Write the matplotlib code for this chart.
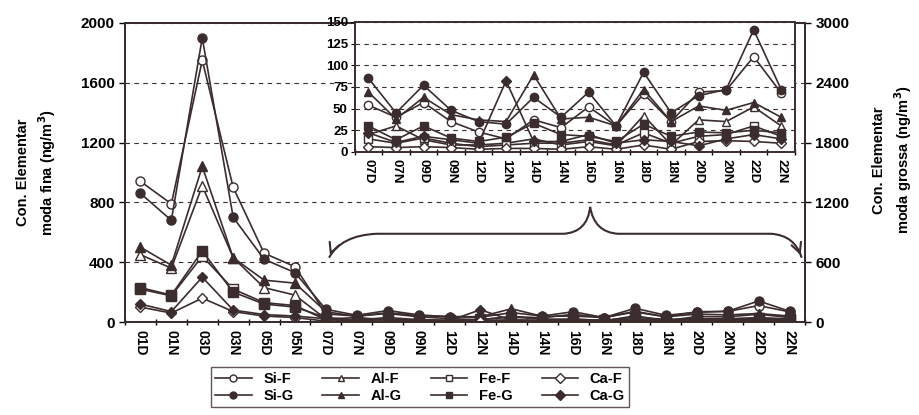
import numpy as np
import matplotlib
matplotlib.use('Agg')
import matplotlib.pyplot as plt
from matplotlib.path import Path
from matplotlib.patches import PathPatch

plt.rcParams['font.family'] = ['Liberation Sans', 'DejaVu Sans']
plt.rcParams['font.weight'] = 'bold'

# categories (sampling day + D/N)
cats = ['01D', '01N', '03D', '03N', '05D', '05N', '07D', '07N', '09D', '09N', '12D',
        '12N', '14D', '14N', '16D', '16N', '18D', '18N', '20D', '20N', '22D', '22N']

# concentrations (ng/m3)
si_f = [940, 790, 1750, 900, 460, 370, 54, 40, 57, 35, 23, 15, 37, 28, 52, 30, 67, 35, 69, 71, 110, 68]
si_g = [860, 680, 1900, 700, 420, 330, 85, 45, 77, 48, 35, 32, 63, 40, 69, 30, 92, 45, 65, 72, 141, 72]
al_f = [450, 360, 910, 430, 230, 180, 20, 30, 14, 8, 8, 10, 15, 8, 12, 7, 42, 8, 37, 35, 52, 30]
al_g = [500, 380, 1040, 430, 280, 260, 69, 38, 63, 43, 37, 35, 89, 38, 40, 30, 72, 35, 53, 48, 57, 40]
fe_f = [220, 175, 440, 220, 130, 110, 15, 10, 16, 10, 6, 8, 10, 10, 14, 8, 22, 10, 18, 20, 30, 18]
fe_g = [230, 180, 475, 200, 120, 100, 30, 14, 30, 16, 12, 17, 33, 20, 18, 12, 32, 18, 23, 22, 25, 22]
ca_f = [100, 60, 160, 70, 40, 30, 6, 5, 6, 5, 3, 4, 4, 3, 6, 3, 8, 3, 12, 13, 12, 10]
ca_g = [120, 70, 300, 80, 50, 40, 22, 11, 18, 14, 10, 82, 12, 12, 20, 10, 14, 12, 7, 15, 20, 15]

inset_start = 6  # inset shows 07D .. 22N

dark = '#3b2c2d'
series = [
    ('Si-F', si_f, 'o', 'white'), ('Si-G', si_g, 'o', dark),
    ('Al-F', al_f, '^', 'white'), ('Al-G', al_g, '^', dark),
    ('Fe-F', fe_f, 's', 'white'), ('Fe-G', fe_g, 's', dark),
    ('Ca-F', ca_f, 'D', 'white'), ('Ca-G', ca_g, 'D', dark),
]

fig = plt.figure(figsize=(9.19, 4.15), dpi=100)
ax = fig.add_axes([0.136, 0.224, 0.740, 0.721])
x = np.arange(len(cats))

handles = []
for name, vals, mk, fc in series:
    ms = 6.5 if mk != 'D' else 5.5
    h, = ax.plot(x, vals, color=dark, lw=1.2, marker=mk, ms=ms, mfc=fc,
                 mec=dark, mew=1.0, label=name)
    handles.append(h)

ax.set_xlim(-0.5, len(cats) - 0.5)
ax.set_ylim(0, 2000)
ax.set_yticks(np.arange(0, 2001, 400))
ax.set_xticks(x)
ax.set_xticklabels(cats, rotation=-90, fontsize=10, fontweight='bold')
ax.set_xticks(np.arange(-0.5, len(cats), 1), minor=True)
ax.tick_params(axis='x', which='major', length=0, pad=6)
ax.tick_params(axis='x', which='minor', length=5, direction='inout', width=1)
ax.tick_params(axis='y', labelsize=11, length=4, width=1)
for lab in ax.get_yticklabels():
    lab.set_fontweight('bold')
ax.yaxis.grid(True, ls=(0, (4, 4)), color=dark, lw=0.8)
for s in ax.spines.values():
    s.set_linewidth(1.4)
    s.set_color(dark)

ax2 = ax.twinx()
ax2.set_ylim(0, 3000)
ax2.set_yticks(np.arange(0, 3001, 600))
ax2.tick_params(axis='y', labelsize=11, length=4, width=1)
for lab in ax2.get_yticklabels():
    lab.set_fontweight('bold')
for s in ax2.spines.values():
    s.set_linewidth(1.4)
    s.set_color(dark)

fig.text(0.040, 0.585, 'Con. Elementar\nmoda fina (ng/m$^{\\mathbf{3}}$)', fontsize=10.5,
         fontweight='bold', linespacing=1.35, rotation=90, ha='center', va='center')
fig.text(0.972, 0.615, 'Con. Elementar\nmoda grossa (ng/m$^{\\mathbf{3}}$)', fontsize=10.5,
         fontweight='bold', linespacing=1.35, rotation=90, ha='center', va='center')

# brace pointing at the zoomed region
P = Path.MOVETO
L = Path.LINETO
C = Path.CURVE3
verts = [(0.30, 0.215), (0.318, 0.29), (0.37, 0.295), (0.645, 0.295),
         (0.68, 0.30), (0.684, 0.385), (0.69, 0.30), (0.725, 0.295),
         (0.95, 0.295), (0.985, 0.29), (0.995, 0.215)]
codes = [P, C, C, L, C, C, C, C, L, C, C]
brace = PathPatch(Path(verts, codes), fill=False, lw=1.5, ec=dark,
                  transform=ax.transAxes, zorder=5)
ax.add_patch(brace)
for tip, tail in [((0.30, 0.215), (0.305, 0.245)), ((0.995, 0.215), (0.99, 0.245))]:
    ax.annotate('', xy=tip, xytext=tail, xycoords='axes fraction',
                textcoords='axes fraction',
                arrowprops=dict(arrowstyle='->', lw=1.5, color=dark, mutation_scale=18))

# inset with the low-concentration days
ins = fig.add_axes([0.386, 0.634, 0.479, 0.313])
xi = np.arange(len(cats) - inset_start)
for name, vals, mk, fc in series:
    ms = 6 if mk != 'D' else 5
    ins.plot(xi, vals[inset_start:], color=dark, lw=1.2, marker=mk, ms=ms,
             mfc=fc, mec=dark, mew=1.0)
ins.set_xlim(-0.5, len(xi) - 0.5)
ins.set_ylim(0, 150)
ins.set_yticks(np.arange(0, 151, 25))
ins.set_xticks(xi)
ins.set_xticklabels(cats[inset_start:], rotation=-90, fontsize=9.5, fontweight='bold')
ins.set_xticks(np.arange(-0.5, len(xi), 1), minor=True)
ins.tick_params(axis='x', which='major', length=0, pad=5)
ins.tick_params(axis='x', which='minor', length=4, direction='inout', width=1)
ins.tick_params(axis='y', labelsize=9.5, length=3, pad=2)
for lab in ins.get_yticklabels():
    lab.set_fontweight('bold')
ins.yaxis.grid(True, ls=(0, (4, 4)), color=dark, lw=0.8)
for s in ins.spines.values():
    s.set_linewidth(1.4)
    s.set_color(dark)

leg = fig.legend(handles=handles, loc='center', bbox_to_anchor=(0.457, 0.067),
                 ncol=4, frameon=True, fancybox=False, fontsize=10.5,
                 handlelength=2.5, columnspacing=2.0, borderpad=0.3,
                 labelspacing=0.2, edgecolor=dark)
leg.get_frame().set_linewidth(1.0)
for h in leg.legend_handles:
    h.set_markersize(5)
for t in leg.get_texts():
    t.set_fontweight('bold')

fig.savefig('out.png', dpi=100, facecolor='white')
